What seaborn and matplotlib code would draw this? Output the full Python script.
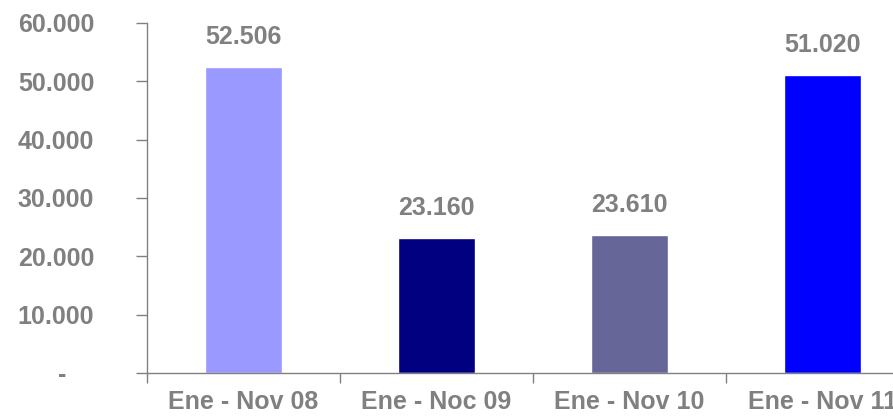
import matplotlib
matplotlib.use("Agg")
import matplotlib.pyplot as plt
from matplotlib.ticker import FixedLocator, FuncFormatter
import seaborn as sns

periods = ["Ene - Nov 08", "Ene - Noc 09", "Ene - Nov 10", "Ene - Nov 11"]
values = [52506, 23160, 23610, 51020]
bar_colors = ["#9999FF", "#000080", "#666699", "#0000FF"]
y_ticks = [0, 10000, 20000, 30000, 40000, 50000, 60000]

sns.set_style("white")
plt.rcParams["font.family"] = ["Liberation Sans", "DejaVu Sans"]
grey = "#808080"

fig = plt.figure(figsize=(8.93, 4.2), dpi=100)
# axes runs past the right edge, like the original
ax = fig.add_axes([147 / 893, 47 / 420, 772 / 893, 350 / 420])

sns.barplot(x=periods, y=values, hue=periods, palette=bar_colors,
            width=0.4, legend=False, saturation=1, ax=ax)

ax.set_xlim(-0.5, 3.5)
ax.set_ylim(0, 60000)

def fmt(v, pos):
    if v == 0:
        return "-    "
    return f"{int(v):,}".replace(",", ".")

ax.yaxis.set_major_locator(FixedLocator(y_ticks))
ax.yaxis.set_major_formatter(FuncFormatter(fmt))
ax.tick_params(axis="y", direction="out", length=8, width=1, color=grey,
               pad=30, labelsize=18, labelcolor=grey, left=True)

ax.xaxis.set_minor_locator(FixedLocator([-0.5, 0.5, 1.5, 2.5, 3.5]))
ax.tick_params(axis="x", which="major", length=0, pad=12,
               labelsize=18, labelcolor=grey)
ax.tick_params(axis="x", which="minor", direction="out", length=7,
               width=1, color=grey, bottom=True)
for lbl in ax.get_xticklabels() + ax.get_yticklabels():
    lbl.set_fontweight("bold")

for side in ["top", "right"]:
    ax.spines[side].set_visible(False)
for side in ["left", "bottom"]:
    ax.spines[side].set_color(grey)
    ax.spines[side].set_linewidth(1)

for i, v in enumerate(values):
    ax.annotate(f"{v:,}".replace(",", "."), (i, v), xytext=(0, 13),
                textcoords="offset points", ha="center", va="bottom",
                fontsize=18, fontweight="bold", color=grey)

ax.set_xlabel("")
ax.set_ylabel("")

fig.savefig("out.png", dpi=100)
